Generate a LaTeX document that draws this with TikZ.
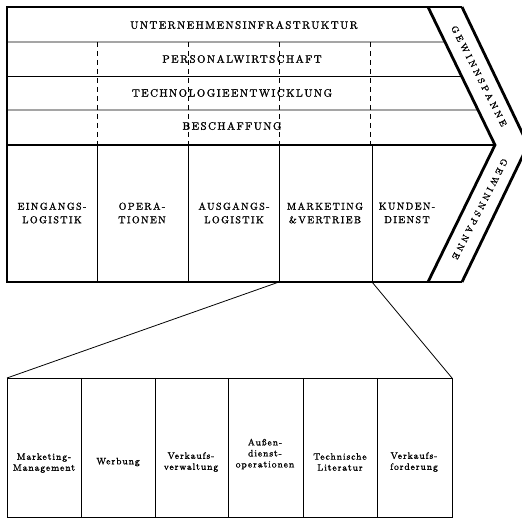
\documentclass[tikz,border=0pt]{standalone}
\usepackage{fontspec}
\setmainfont{Latin Modern Roman}
\usetikzlibrary{calc}
\tikzset{
  thickline/.style={line width=2.8pt, line join=miter},
  thinline/.style={line width=0.8pt},
  dashline/.style={line width=0.8pt, dash pattern=on 5pt off 4pt},
  supplbl/.style={inner sep=0pt, font=\fontsize{10.8}{12}\selectfont\addfontfeatures{LetterSpace=14,FakeBold=1.6}},
  primlbl/.style={inner sep=0pt, align=center, font=\fontsize{10}{13.5}\selectfont\addfontfeatures{LetterSpace=14,FakeBold=1.6}},
  marglbl/.style={inner sep=0pt, font=\fontsize{9}{10}\selectfont\addfontfeatures{LetterSpace=34,FakeBold=1.6}},
  sublbl/.style={inner sep=0pt, align=center, font=\fontsize{9.3}{11}\selectfont\addfontfeatures{LetterSpace=10,FakeBold=1.4}}
}
\begin{document}
\begin{tikzpicture}[x=1pt,y=-1pt]
\useasboundingbox (0,0) rectangle (522,518);
\clip (0,0) rectangle (522,518);
% key points
\coordinate (tl) at (7,7);
\coordinate (bl) at (7,282);
\coordinate (ml) at (7,145);
\coordinate (iu) at (428,7);
\coordinate (ia) at (495,145);
\coordinate (ib) at (428,282);
\coordinate (ou) at (462,7);
\coordinate (oa) at (528,145);
\coordinate (ob) at (462,282);
% support rows
\draw[thinline] (7,42) -- ($(iu)!0.2536!(ia)$);
\draw[thinline] (7,76) -- ($(iu)!0.5!(ia)$);
\draw[thinline] (7,110) -- ($(iu)!0.746!(ia)$);
\foreach \x in {97,188,279,370} \draw[dashline] (\x,42) -- (\x,145);
% primary dividers
\foreach \x in {97,188,279,372} \draw[thinline] (\x,145) -- (\x,282);
% frame
\draw[thickline] (ou) -- (tl) -- (bl) -- (ob);
\draw[thickline] (iu) -- (ia) -- (ib);
\draw[thickline] (ou) -- (oa) -- (ob);
\draw[thickline] (ml) -- (ia);
% support labels
\node[supplbl] (s1) at (244,25) {UNTERNEHMENSINFRASTRUKTUR};
\node[supplbl] (s2) at (242,59) {PERSONALWIRTSCHAFT};
\node[supplbl] (s3) at (232,93) {TECHNOLOGIEENTWICKLUNG};
\node[supplbl] (s4) at (232,126) {BESCHAFFUNG};
% primary labels
\node[primlbl] (p1) at (52,213) {EINGANGS-\\LOGISTIK};
\node[primlbl] (p2) at (142,213) {OPERA-\\TIONEN};
\node[primlbl] (p3) at (234,213) {AUSGANGS-\\LOGISTIK};
\node[primlbl] (p4) at (325,213) {MARKETING\\\&\,VERTRIEB};
\node[primlbl] (p5) at (407,213) {KUNDEN-\\DIENST};
% margin labels
\node[marglbl, rotate=-63] (g1) at (479,76) {GEWINNSPANNE};
\node[marglbl, rotate=-117] (g2) at (480,209) {GEWINNSPANNE};
% lower box
\draw[thinline] (7,378) rectangle (452,517);
\foreach \x in {81,155,228,303,377} \draw[thinline] (\x,378) -- (\x,517);
\coordinate (lbtl) at (7,378);
\coordinate (lbtr) at (452,378);
\coordinate (mkl) at (279,282);
\coordinate (mkr) at (372,282);
\draw[thinline] (mkl) -- (lbtl);
\draw[thinline] (mkr) -- (lbtr);
\node[sublbl] (m1) at (44,463) {Marketing-\\Management};
\node[sublbl] (m2) at (118,462) {Werbung};
\node[sublbl] (m3) at (191,462) {Verkaufs-\\verwaltung};
\node[sublbl] (m4) at (265,454) {Außen-\\dienst-\\operationen};
\node[sublbl] (m5) at (340,462) {Technische\\Literatur};
\node[sublbl] (m6) at (414,462) {Verkaufs-\\forderung};
\end{tikzpicture}
\end{document}
